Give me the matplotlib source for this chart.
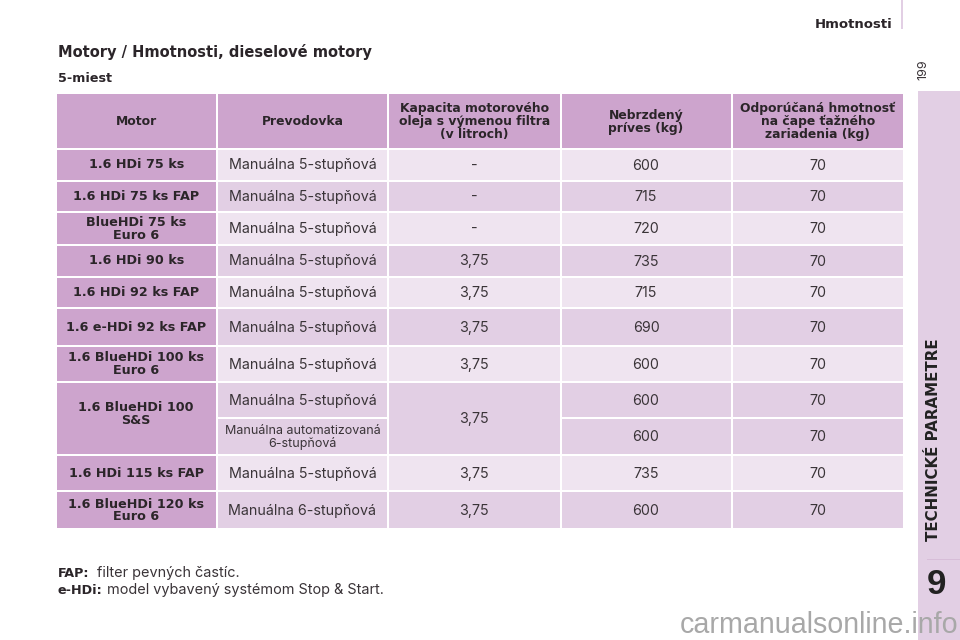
import matplotlib
matplotlib.use('Agg')
import matplotlib.pyplot as plt
from matplotlib.patches import Rectangle

plt.rcParams['font.family'] = ['Inter', 'Liberation Sans', 'DejaVu Sans']

headers = ['Motor', 'Prevodovka', 'Kapacita motorového\noleja s výmenou filtra\n(v litroch)',
           'Nebrzdený\npríves (kg)', 'Odporúčaná hmotnosť\nna čape ťažného\nzariadenia (kg)']
motors = ['1.6 HDi 75 ks', '1.6 HDi 75 ks FAP', 'BlueHDi 75 ks\nEuro 6', '1.6 HDi 90 ks',
          '1.6 HDi 92 ks FAP', '1.6 e-HDi 92 ks FAP', '1.6 BlueHDi 100 ks\nEuro 6',
          '1.6 BlueHDi 100\nS&S', None, '1.6 HDi 115 ks FAP', '1.6 BlueHDi 120 ks\nEuro 6']
gearboxes = ['Manuálna 5-stupňová'] * 8 + ['Manuálna automatizovaná\n6-stupňová',
             'Manuálna 5-stupňová', 'Manuálna 6-stupňová']
oil = ['-', '-', '-', '3,75', '3,75', '3,75', '3,75', '3,75', None, '3,75', '3,75']
trailer = [600, 715, 720, 735, 715, 690, 600, 600, 600, 735, 600]
hitch = [70] * 11

# layout in pixels
col_edges = [(57, 215.5), (218, 387), (389, 559.5), (561.5, 730.5), (732.5, 903)]
header_y = (94, 147.5)
row_edges = [(149.5, 179.5), (181.5, 211), (213, 243.5), (245.5, 275.5), (277.5, 307),
             (309, 344.5), (346.5, 381), (383, 417), (418.5, 454), (456, 490), (492, 528)]

HEAD = '#cda4cd'
DARK = '#e2cfe4'
LIGHT = '#efe4f0'
TEXT = '#2b2529'
BODY = '#3a3438'

fig = plt.figure(figsize=(9.6, 6.4), dpi=100)
ax = fig.add_axes([0, 0, 1, 1])
ax.set_xlim(0, 960)
ax.set_ylim(640, 0)
ax.axis('off')


def box(x0, x1, y0, y1, color):
    ax.add_patch(Rectangle((x0, y0), x1 - x0, y1 - y0, facecolor=color, edgecolor='none'))


def label(x, y, s, size=10, bold=False, color=TEXT, **kw):
    kw.setdefault('ha', 'center')
    kw.setdefault('va', 'center')
    kw.setdefault('linespacing', 1.0)
    if bold:
        kw.setdefault('family', 'DejaVu Sans')
    ax.text(x, y, s, fontsize=size, fontweight='bold' if bold else 'normal', color=color, **kw)


def mid(a):
    return (a[0] + a[1]) / 2


# header
for c, h in zip(col_edges, headers):
    box(c[0], c[1], header_y[0], header_y[1], HEAD)
    label(mid(c), mid(header_y) + 1, h, size=8.9, bold=True, linespacing=1.0)

# rows
shades = [LIGHT, DARK, LIGHT, DARK, LIGHT, DARK, LIGHT, DARK, DARK, LIGHT, DARK]
n = len(row_edges)
for i, r in enumerate(row_edges):
    shade = shades[i]
    merged_motor = i + 1 < n and motors[i + 1] is None
    merged_oil = i + 1 < n and oil[i + 1] is None
    if motors[i] is not None:
        y1 = row_edges[i + 1][1] if merged_motor else r[1]
        box(col_edges[0][0], col_edges[0][1], r[0], y1, HEAD)
        y_txt = r[0] + 31 if merged_motor else mid(r) + 0.5
        label(mid(col_edges[0]), y_txt, motors[i], size=9.2, bold=True, linespacing=0.98)
    box(col_edges[1][0], col_edges[1][1], r[0], r[1], shade)
    size = 9 if '\n' in gearboxes[i] else 10.3
    label(mid(col_edges[1]), mid(r) + 1, gearboxes[i], size=size, color=BODY, linespacing=0.95)
    if oil[i] is not None:
        y1 = row_edges[i + 1][1] if merged_oil else r[1]
        box(col_edges[2][0], col_edges[2][1], r[0], y1, shade)
        label(mid(col_edges[2]), (r[0] + y1) / 2 + 1, oil[i], size=10.3, color=BODY)
    box(col_edges[3][0], col_edges[3][1], r[0], r[1], shade)
    label(mid(col_edges[3]), mid(r) + 1, str(trailer[i]), size=10.3, color=BODY)
    box(col_edges[4][0], col_edges[4][1], r[0], r[1], shade)
    label(mid(col_edges[4]), mid(r) + 1, str(hitch[i]), size=10.3, color=BODY)

# titles
label(58, 57, 'Motory / Hmotnosti, dieselové motory', size=10.55, bold=True, ha='left', va='baseline')
label(58, 82, '5-miest', size=9.2, bold=True, ha='left', va='baseline')
label(893, 28, 'Hmotnosti', size=9.5, bold=True, ha='right', va='baseline')
box(901, 903, 0, 29, DARK)
label(923.5, 70, '199', size=9, rotation=90, color=BODY)

# footnotes
label(58, 577, 'FAP:', size=9.2, bold=True, ha='left', va='baseline')
label(97, 577, 'filter pevných častíc.', size=10.4, ha='left', va='baseline', color=BODY)
label(58, 594, 'e-HDi:', size=9.2, bold=True, ha='left', va='baseline')
label(107, 594, 'model vybavený systémom Stop & Start.', size=10.4, ha='left', va='baseline', color=BODY)

# side tab
box(918, 960, 91, 640, DARK)
box(927, 960, 558.5, 559.5, '#d7bdd8')
label(933, 440, 'TECHNICKÉ PARAMETRE', size=10.8, bold=True, rotation=90, color='#222222')
label(936.5, 585, '9', size=25, bold=True, color='#222222', family='Liberation Sans')

# watermark
label(958, 625, 'carmanualsonline.info', size=20.6, ha='right', color='#a8a8a8',
      family='Liberation Sans')

fig.savefig('out.png', dpi=100)
